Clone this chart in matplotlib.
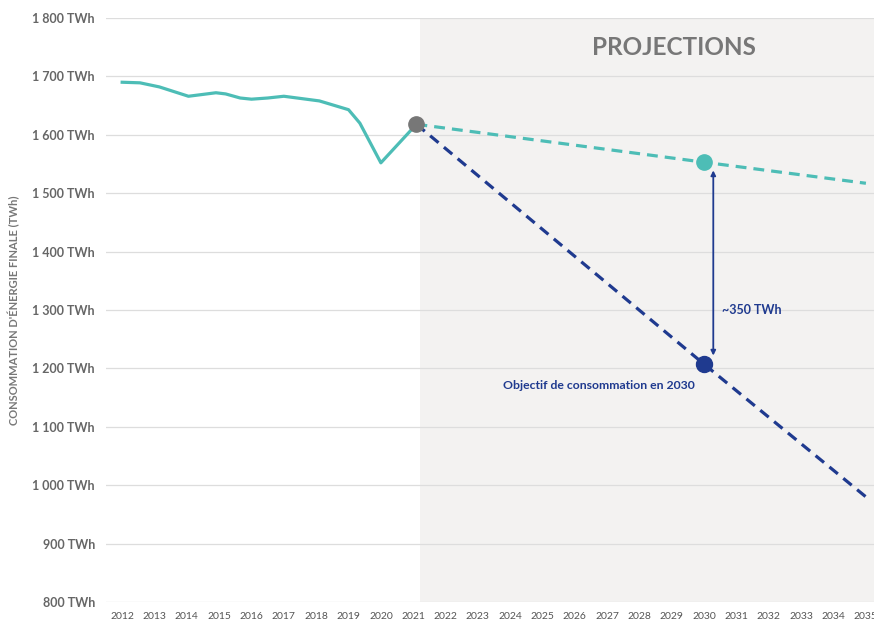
import matplotlib.pyplot as plt
from matplotlib.ticker import FuncFormatter

# historical final energy consumption (TWh)
hist_years = [2012.0, 2012.55, 2013.15, 2014.05, 2014.9, 2015.2, 2015.65, 2016.0,
              2016.5, 2017.0, 2018.1, 2019.0, 2019.35, 2020.0, 2021.1]
hist_twh = [1690, 1689, 1682, 1666, 1672, 1670, 1663, 1661,
            1663, 1666, 1658, 1643, 1620, 1552, 1618]

# projections
proj_years = [2021.1, 2030, 2035]
trend_twh = [1618, 1553, 1517]
target_twh = [1618, 1207, 980]

gap_year = 2030.28
gap_range = [1222, 1539]

tick_years = list(range(2012, 2036))
y_ticks = list(range(800, 1900, 100))

TEAL = '#4dbdb6'
BLUE = '#1f3a8f'
GREY = '#777777'

plt.rcParams['font.family'] = ['Lato', 'DejaVu Sans']

fig = plt.figure(figsize=(8.74, 6.2), dpi=100)
ax = fig.add_axes([106 / 874, 18 / 620, 1 - 106 / 874, 584 / 620])

ax.axvspan(2021.2, 2036, color='#f3f2f1', zorder=0, lw=0)
for v in y_ticks:
    ax.axhline(v, color='#dddddd', lw=0.9, zorder=1)

ax.plot(hist_years, hist_twh, color=TEAL, lw=2.3, solid_joinstyle='round', zorder=3)
ax.plot(proj_years, trend_twh, color=TEAL, lw=2.3, ls=(0, (3.4, 2.2)), zorder=3)
ax.plot(proj_years, target_twh, color=BLUE, lw=2.3, ls=(0, (3.4, 2.2)), zorder=3)

ax.plot(proj_years[0], hist_twh[-1], 'o', color=GREY, ms=11, zorder=5)
ax.plot(proj_years[1], trend_twh[1], 'o', color=TEAL, ms=11, zorder=5)
ax.plot(proj_years[1], target_twh[1], 'o', color=BLUE, ms=11.5, zorder=5)

ax.annotate('', xy=(gap_year, gap_range[1]), xytext=(gap_year, gap_range[0]),
            arrowprops=dict(arrowstyle='<|-|>', color=BLUE, lw=1.3,
                            mutation_scale=7, shrinkA=0, shrinkB=0), zorder=4)
ax.text(gap_year + 0.27, 1300, '~350 TWh', color=BLUE, fontsize=9,
        fontweight='bold', va='center', ha='left')
ax.text(2029.7, 1180, 'Objectif de consommation en 2030', color=BLUE, fontsize=8.8,
        fontweight='bold', va='top', ha='right')

ax.text(2029.05, 1750, 'PROJECTIONS', color=GREY, fontsize=17.5, fontweight='bold',
        ha='center', va='center')

ax.set_xlim(2011.5, 2035.25)
ax.set_ylim(800, 1800)
ax.set_xticks(tick_years)
ax.set_xticklabels([str(y) for y in tick_years])
ax.set_yticks(y_ticks)
ax.yaxis.set_major_formatter(FuncFormatter(lambda v, p: f'{int(v):,} TWh'.replace(',', ' ')))
ax.tick_params(axis='x', length=0, pad=7, labelsize=7.5, labelcolor='#555555')
ax.tick_params(axis='y', length=0, pad=8, labelsize=9, labelcolor='#666666')
for lab in ax.get_yticklabels():
    lab.set_fontweight('bold')
for s in ax.spines.values():
    s.set_visible(False)

fig.text(14 / 874, 0.5, "CONSOMMATION D'ÉNERGIE FINALE (TWh)", rotation=90,
         fontsize=8, fontweight='bold', color='#777777', ha='center', va='center')

fig.savefig('out.png', dpi=100)
plt.close(fig)
